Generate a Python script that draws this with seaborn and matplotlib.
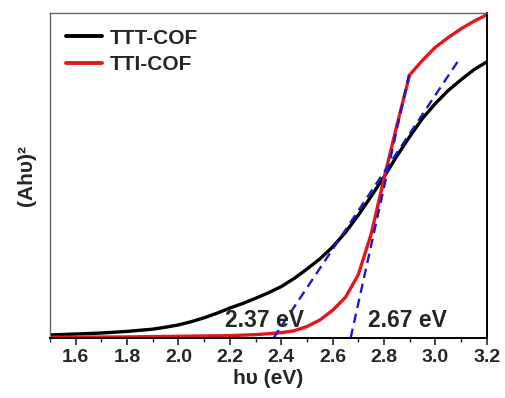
import matplotlib
matplotlib.use("Agg")
import matplotlib.pyplot as plt
import pandas as pd
import seaborn as sns
from matplotlib.ticker import MultipleLocator

# photon energy (eV) and (Ahv)^2, arbitrary units
ttt_x = [1.50, 1.60, 1.70, 1.80, 1.90, 1.95, 2.00, 2.05, 2.10, 2.15, 2.20, 2.25, 2.30, 2.35,
         2.40, 2.45, 2.50, 2.55, 2.60, 2.65, 2.70, 2.75, 2.80, 2.85, 2.90, 2.95, 3.00,
         3.05, 3.10, 3.15, 3.20]
ttt_y = [0.009, 0.012, 0.015, 0.020, 0.027, 0.033, 0.040, 0.050, 0.062, 0.076, 0.092, 0.106,
         0.122, 0.139, 0.158, 0.183, 0.212, 0.243, 0.280, 0.325, 0.378, 0.436, 0.496, 0.560,
         0.620, 0.676, 0.722, 0.762, 0.795, 0.826, 0.850]

tti_x = [1.50, 1.80, 2.00, 2.20, 2.30, 2.40, 2.45, 2.50, 2.55, 2.60, 2.65, 2.70, 2.75,
         2.80, 2.85, 2.90, 2.95, 3.00, 3.05, 3.10, 3.15, 3.20]
tti_y = [0.002, 0.003, 0.005, 0.007, 0.010, 0.016, 0.022, 0.035, 0.055, 0.085, 0.125, 0.195, 0.320,
         0.490, 0.655, 0.810, 0.855, 0.895, 0.925, 0.952, 0.975, 0.995]

# Tauc extrapolation lines (start at the band gap on the x axis)
ttt_fit_x = [2.37, 3.086]
ttt_fit_y = [0.0, 0.85]
tti_fit_x = [2.67, 2.897]
tti_fit_y = [0.0, 0.81]

gap_labels = ["2.37 eV", "2.67 eV"]
gap_label_x = [2.335, 2.89]

series_names = ["TTT-COF", "TTI-COF"]
series_colors = ["black", "#e3171b"]

sns.set_theme(style="white")
plt.rcParams["font.family"] = ["Liberation Sans", "DejaVu Sans"]
plt.rcParams["font.weight"] = "bold"

df = pd.concat([
    pd.DataFrame({"E": ttt_x, "A": ttt_y, "sample": series_names[0]}),
    pd.DataFrame({"E": tti_x, "A": tti_y, "sample": series_names[1]}),
])

fig = plt.figure(figsize=(5.05, 3.98), dpi=100)
ax = fig.add_axes([0.099, 0.151, 0.865, 0.816])

sns.lineplot(data=df, x="E", y="A", hue="sample", palette=series_colors,
             linewidth=2.4, ax=ax, sort=True)

for fx, fy in [(ttt_fit_x, ttt_fit_y), (tti_fit_x, tti_fit_y)]:
    ax.plot(fx, fy, color="#1a1ac8", linestyle=(0, (4, 2.5)), linewidth=1.7)

for lbl, lx in zip(gap_labels, gap_label_x):
    ax.text(lx, 0.055, lbl, ha="center", va="center", fontsize=16.5, fontweight="bold")

ax.set_xlim(1.5, 3.2)
ax.set_ylim(0, 1.0)
ax.xaxis.set_major_locator(MultipleLocator(0.2))
ax.xaxis.set_minor_locator(MultipleLocator(0.1))
ax.set_yticks([])
ax.tick_params(axis="x", which="major", direction="out", length=5, width=1.2,
               labelsize=14, pad=3, bottom=True)
ax.tick_params(axis="x", which="minor", direction="out", length=3, width=1, bottom=True)
for lab in ax.get_xticklabels():
    lab.set_fontweight("bold")

ax.set_xlabel("h\u03c5 (eV)", fontsize=15, fontweight="bold", labelpad=2)
ax.set_ylabel("(Ah\u03c5)\u00b2", fontsize=15, fontweight="bold", labelpad=10)

for side in ["left", "top"]:
    ax.spines[side].set_color("#666666")
    ax.spines[side].set_linewidth(1.0)
for side in ["right", "bottom"]:
    ax.spines[side].set_color("black")
    ax.spines[side].set_linewidth(1.4)

leg = ax.legend(loc="upper left", frameon=False, fontsize=15, handlelength=1.75,
                handletextpad=0.35, borderaxespad=0.45, labelspacing=0.35,
                borderpad=0.3)
for t in leg.get_texts():
    t.set_fontweight("bold")
for h in leg.get_lines():
    h.set_linewidth(2.8)

fig.savefig("out.png", dpi=100)
